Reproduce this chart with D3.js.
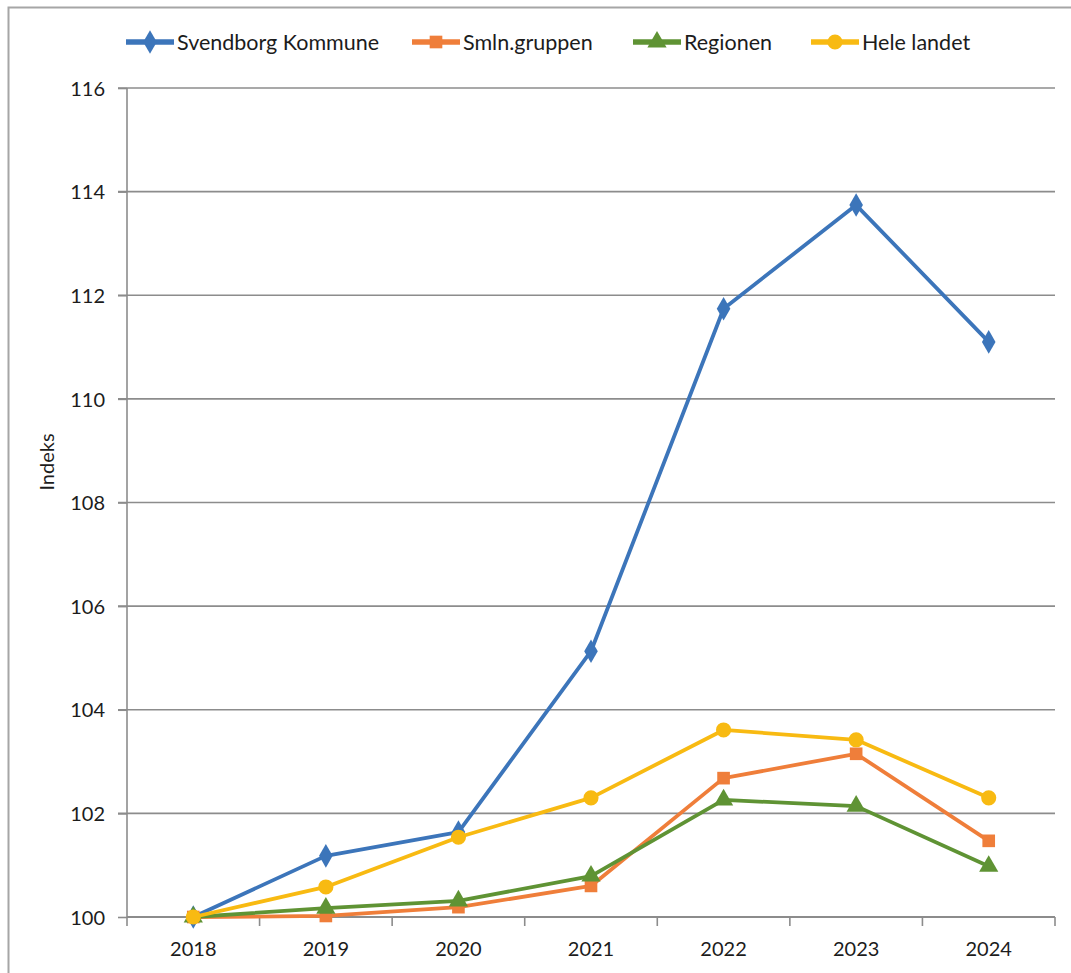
<!DOCTYPE html>
<html>
<head>
<meta charset="utf-8">
<script src="https://cdn.jsdelivr.net/npm/d3@7"></script>
<style>
  html, body { margin: 0; padding: 0; background: #fff; }
  svg { display: block; }
  text { font-family: Lato, "Open Sans", sans-serif; fill: #1c1c1c; }
</style>
</head>
<body>
<svg id="chart" width="1071" height="973"></svg>
<script>
const years = ["2018", "2019", "2020", "2021", "2022", "2023", "2024"];
const seriesNames = ["Svendborg Kommune", "Smln.gruppen", "Regionen", "Hele landet"];
const svendborg = [100, 101.18, 101.64, 105.13, 111.74, 113.74, 111.10];
const smln      = [100, 100.02, 100.19, 100.60, 102.68, 103.15, 101.47];
const regionen  = [100, 100.17, 100.31, 100.79, 102.26, 102.14, 100.98];
const heleLandet= [100, 100.58, 101.54, 102.30, 103.61, 103.42, 102.30];
const yTicks = [100, 102, 104, 106, 108, 110, 112, 114, 116];
const yLabel = "Indeks";

const seriesValues = [svendborg, smln, regionen, heleLandet];
const colors = ["#3C75BA", "#EF7E3A", "#5F9334", "#F8BA12"];
const markers = [d3.symbolDiamond, d3.symbolSquare, d3.symbolTriangle, d3.symbolCircle];
const markerSizes = [160, 160, 160, 180];

const svg = d3.select("#chart");
const margin = { left: 127, right: 1055, top: 88, bottom: 917 };

// outer border
svg.append("rect").attr("x", 8.5).attr("y", 7.5).attr("width", 1080).attr("height", 1000)
  .attr("fill", "none").attr("stroke", "#a6a6a6").attr("stroke-width", 2);

const x = d3.scaleBand().domain(years).range([margin.left, margin.right]);
const y = d3.scaleLinear().domain([100, 116]).range([margin.bottom, margin.top]);

// gridlines
svg.append("g").selectAll("line").data(yTicks.filter(t => t !== 100)).join("line")
  .attr("x1", margin.left - 9).attr("x2", margin.right)
  .attr("y1", d => y(d)).attr("y2", d => y(d))
  .attr("stroke", "#8c8c8c").attr("stroke-width", 1.6);

// y axis
const yAxis = svg.append("g").attr("transform", `translate(${margin.left},0)`)
  .call(d3.axisLeft(y).tickValues(yTicks).tickSize(9).tickPadding(13).tickFormat(d3.format("d")));
yAxis.select(".domain").attr("stroke", "#8c8c8c").attr("stroke-width", 1.6).attr("d", `M0,${margin.top}V${margin.bottom}`);
yAxis.selectAll(".tick line").attr("stroke", "#8c8c8c").attr("stroke-width", 1.6);
yAxis.selectAll(".tick text").attr("font-size", 20).attr("fill", "#1c1c1c")
  .attr("font-family", "Lato, sans-serif").attr("dy", "0.36em");

// x axis
const xAxis = svg.append("g").attr("transform", `translate(0,${margin.bottom})`)
  .call(d3.axisBottom(x).tickSize(0).tickPadding(25));
xAxis.select(".domain").attr("stroke", "#8c8c8c").attr("stroke-width", 2)
  .attr("d", `M${margin.left},0H${margin.right}`);
xAxis.selectAll(".tick text").attr("font-size", 20).attr("fill", "#1c1c1c")
  .attr("font-family", "Lato, sans-serif");
// boundary tick marks
const bounds = years.map(d => x(d)).concat([margin.right]);
xAxis.append("g").selectAll("line").data(bounds).join("line")
  .attr("x1", d => d).attr("x2", d => d).attr("y1", 0).attr("y2", 9)
  .attr("stroke", "#8c8c8c").attr("stroke-width", 1.6);

// y label
svg.append("text").attr("transform", "translate(54,462) rotate(-90)")
  .attr("text-anchor", "middle").attr("font-size", 20).text(yLabel);

// lines
const cx = d => x(d) + x.bandwidth() / 2;
const line = d3.line().x((d, i) => cx(years[i])).y(d => y(d));
seriesValues.forEach((vals, s) => {
  const g = svg.append("g");
  g.append("path").datum(vals).attr("d", line).attr("fill", "none")
    .attr("stroke", colors[s]).attr("stroke-width", 3.8).attr("stroke-linejoin", "round");
  g.selectAll("path.m").data(vals).join("path").attr("class", "m")
    .attr("transform", (d, i) => `translate(${cx(years[i])},${y(d)})`)
    .attr("d", d3.symbol().type(markers[s]).size(markerSizes[s]))
    .attr("fill", colors[s]);
});

// legend
const legendX = [126, 412, 633, 811];
const legendY = 42;
const lg = svg.append("g");
seriesNames.forEach((name, s) => {
  const g = lg.append("g").attr("transform", `translate(${legendX[s]},${legendY})`);
  g.append("line").attr("x1", 0).attr("x2", 48).attr("y1", 0).attr("y2", 0)
    .attr("stroke", colors[s]).attr("stroke-width", 5.5);
  g.append("path").attr("transform", "translate(24,0)")
    .attr("d", d3.symbol().type(markers[s]).size(markerSizes[s])).attr("fill", colors[s]);
  g.append("text").attr("x", 51).attr("y", 0).attr("dy", "0.36em")
    .attr("font-size", 21.5).text(name);
});
</script>
</body>
</html>
